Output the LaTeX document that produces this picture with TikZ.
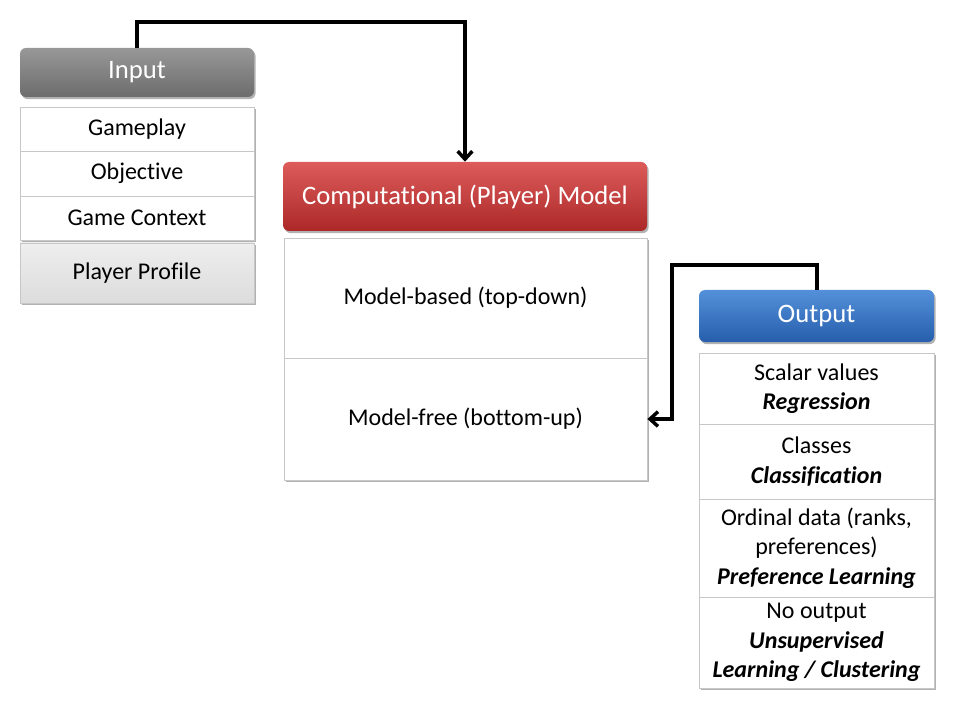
\documentclass[tikz,border=0pt]{standalone}
\usepackage{fontspec}
\setmainfont{Carlito}[Ligatures={NoCommon}]
\usetikzlibrary{arrows.meta,shadows}
\definecolor{gtop}{RGB}{152,152,152}
\definecolor{gbot}{RGB}{108,108,108}
\definecolor{rtop}{RGB}{220,92,90}
\definecolor{rbot}{RGB}{172,40,40}
\definecolor{btop}{RGB}{84,144,218}
\definecolor{bbot}{RGB}{38,94,172}
\definecolor{ptop}{RGB}{238,238,238}
\definecolor{pbot}{RGB}{220,220,220}
\begin{document}
\begin{tikzpicture}[x=0.75pt,y=-0.75pt,
  sz/.style 2 args={minimum width=#1*0.75pt, minimum height=#2*0.75pt},
  shad/.style={drop shadow={shadow xshift=1.2pt,shadow yshift=-1.6pt,opacity=0.3,fill=black}},
  hdr/.style={rounded corners=4.5pt, inner sep=0pt, text=white,
    font=\fontsize{20}{24}\selectfont, shad},
  cell/.style={draw=black!22, line width=0.6pt, fill=white, inner sep=0pt,
    align=center, font=\fontsize{18}{22}\selectfont},
  link/.style={line width=3pt, line join=miter,
    -{Straight Barb[length=6pt,width=11pt,line width=2.6pt]}}]
\useasboundingbox (0,0) rectangle (960,720);

% Input
\node[hdr, top color=gtop, bottom color=gbot, sz={234}{49}] (inhead) at (137,72.5) {Input};
\node[cell, shad, sz={234}{44}] (gp) at (137,129) {Gameplay};
\node[cell, shad, sz={234}{45}] (obj) at (137,173.5) {Objective};
\node[cell, shad, sz={234}{44}] (gc) at (137,218) {Game Context};
\node[cell, shad, top color=ptop, bottom color=pbot, sz={234}{60}] (pp) at (137,273) {Player Profile};

% Computational model
\node[hdr, top color=rtop, bottom color=rbot, sz={364}{69}] (comphead) at (465,196.5) {Computational (Player) Model};
\node[cell, shad, sz={363}{120}] (mbased) at (465.5,298) {Model-based (top-down)};
\node[cell, shad, sz={363}{122}] (mfree) at (465.5,419) {Model-free (bottom-up)};

% Output
\node[hdr, top color=btop, bottom color=bbot, sz={235}{52}] (outhead) at (816.5,316) {Output};
\node[cell, shad, sz={235}{71}] (o1) at (816.5,388.5) {Scalar values\\\textbf{\textit{Regression}}};
\node[cell, shad, sz={235}{75}] (o2) at (816.5,461.5) {Classes\\\textbf{\textit{Classification}}};
\node[cell, shad, sz={235}{98}] (o3) at (816.5,548) {Ordinal data (ranks,\\preferences)\\\textbf{\textit{Preference Learning}}};
\node[cell, shad, sz={235}{91}] (o4) at (816.5,642.5) {No output\\\textbf{\textit{Unsupervised}}\\\textbf{\textit{Learning / Clustering}}};

% connectors
\coordinate (c1) at (137,22);
\coordinate (c2) at (672,265);
\draw[link] (inhead.north) -- (c1) -| (comphead.north);
\draw[link] (outhead.north) |- (c2) |- (mfree.east);
\end{tikzpicture}
\end{document}
